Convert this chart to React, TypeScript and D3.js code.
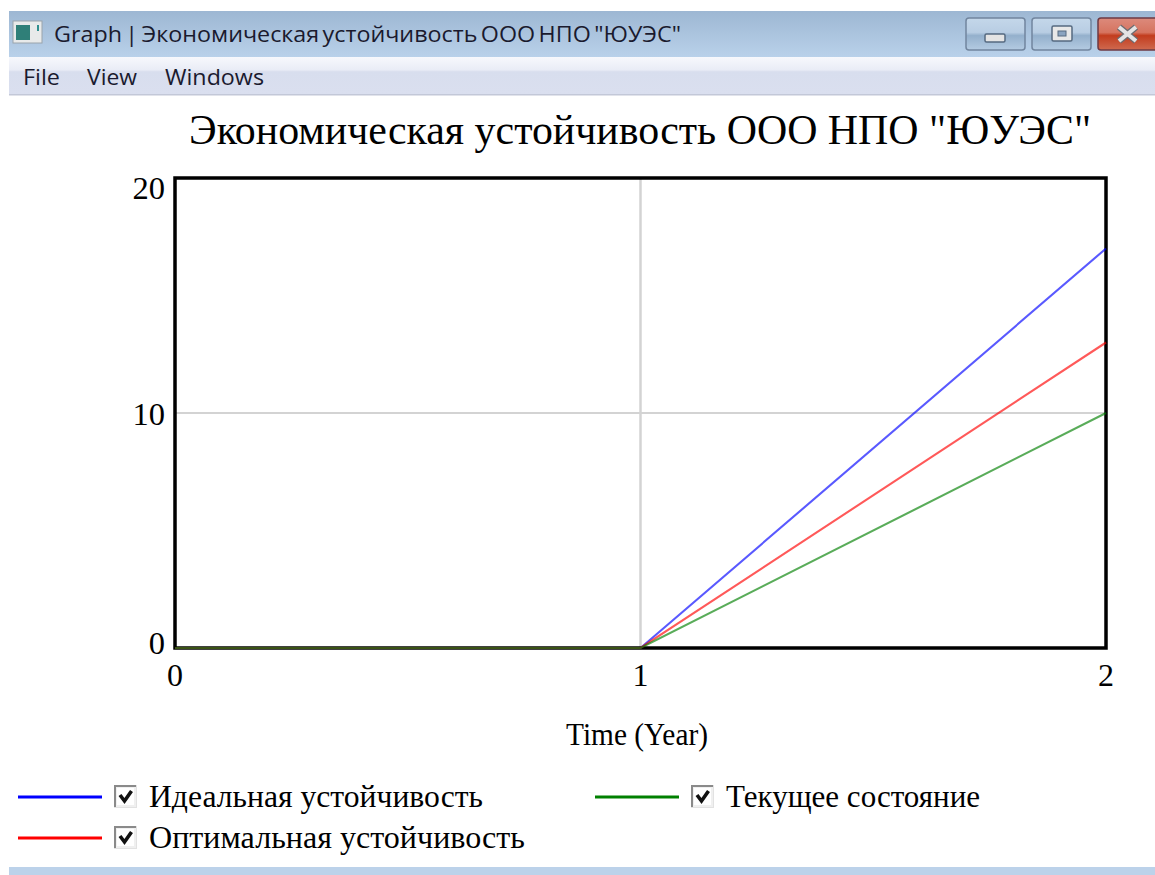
import React from "react";
import * as d3 from "d3";

const times = [0, 1, 2];
const ideal = [0, 0, 17];
const optimal = [0, 0, 13];
const current = [0, 0, 10];
const xTicks = [0, 1, 2];
const yTicks = [0, 10, 20];
const menuItems = [
  { label: "File", x: 23, w: 37 },
  { label: "View", x: 87, w: 50 },
  { label: "Windows", x: 165, w: 99 },
];
const windowTitle = 'Graph | Экономическая устойчивость ООО НПО "ЮУЭС"';
const chartTitle = 'Экономическая устойчивость ООО НПО "ЮУЭС"';
const xLabel = "Time (Year)";
const seriesList = [
  { name: "Идеальная устойчивость", values: ideal, color: "#0000ff", lx: 18, ly: 797, tw: 334 },
  { name: "Оптимальная устойчивость", values: optimal, color: "#ff0000", lx: 18, ly: 838, tw: 376 },
  { name: "Текущее состояние", values: current, color: "#008000", lx: 595, ly: 797, tw: 254 },
];

const L = 175, R = 1106, T = 178, B = 648;
const serif = "'Liberation Serif', serif";
const sans = "'Open Sans', 'Noto Sans', sans-serif";

function CheckBox({ x, y }: { x: number; y: number }) {
  return (
    <g transform={`translate(${x},${y})`}>
      <rect x={0.5} y={0.5} width={22} height={22} fill="#f0f0f0" stroke="#e2e2e2" />
      <path d="M1 22 V1 H22" fill="none" stroke="#8a8a8a" strokeWidth={2} />
      <rect x={3} y={3} width={17} height={17} fill="#fff" />
      <path d="M6 10 L10.5 16 L17.5 6" fill="none" stroke="#111" strokeWidth={3.6} />
    </g>
  );
}

function WinButton({ x, w, red, kind }: { x: number; w: number; red?: boolean; kind: string }) {
  const id = red ? "btnRed" : "btnBlue";
  return (
    <g>
      <rect x={x} y={18} width={w} height={32} rx={3} fill={`url(#${id})`} stroke={red ? "#6e3a44" : "#71859e"} strokeWidth={1.5} />
      {kind === "min" && <rect x={x + 19} y={34} width={20} height={8} rx={1.5} fill="#e4e4e4" stroke="#566a80" strokeWidth={1.5} />}
      {kind === "max" && (
        <g>
          <rect x={x + 20} y={26} width={20} height={15} rx={1.5} fill="#e8e8e8" stroke="#566a80" strokeWidth={1.5} />
          <rect x={x + 26} y={31} width={8} height={5} fill="#8ba4c0" stroke="#566a80" strokeWidth={1} />
        </g>
      )}
      {kind === "close" && (
        <g>
          <path d={`M${x + 21} 27 L${x + 38} 41 M${x + 38} 27 L${x + 21} 41`} stroke="#6b6b70" strokeWidth={6.5} />
          <path d={`M${x + 21} 27 L${x + 38} 41 M${x + 38} 27 L${x + 21} 41`} stroke="#e4e4e4" strokeWidth={4} />
        </g>
      )}
    </g>
  );
}

export default function App() {
  const x = d3.scaleLinear().domain([0, 2]).range([L, R]);
  const y = d3.scaleLinear().domain([0, 20]).range([B, T]);
  const line = d3.line<number>().x((_, i) => x(times[i])).y((d) => y(d));

  return (
    <svg width={1155} height={875} style={{ position: "absolute", left: 0, top: 0, background: "#fff" }}>
      <defs>
        <linearGradient id="titleBar" x1="0" y1="0" x2="0" y2="1">
          <stop offset="0" stopColor="#9db7d3" />
          <stop offset="1" stopColor="#b9d1ea" />
        </linearGradient>
        <linearGradient id="menuBar" x1="0" y1="0" x2="0" y2="1">
          <stop offset="0" stopColor="#f7f8fc" />
          <stop offset="0.35" stopColor="#e9ecf6" />
          <stop offset="0.4" stopColor="#d8deee" />
          <stop offset="1" stopColor="#dadfef" />
        </linearGradient>
        <linearGradient id="btnBlue" x1="0" y1="0" x2="0" y2="1">
          <stop offset="0" stopColor="#c4d7ea" />
          <stop offset="0.45" stopColor="#b8cde3" />
          <stop offset="0.55" stopColor="#94b0cc" />
          <stop offset="1" stopColor="#b4cbe2" />
        </linearGradient>
        <linearGradient id="btnRed" x1="0" y1="0" x2="0" y2="1">
          <stop offset="0" stopColor="#dc8a7c" />
          <stop offset="0.45" stopColor="#d67460" />
          <stop offset="0.55" stopColor="#c23c1e" />
          <stop offset="1" stopColor="#cf6a50" />
        </linearGradient>
      </defs>

      <rect x={9} y={11} width={1146} height={46} fill="url(#titleBar)" />
      <rect x={9} y={57} width={1146} height={37} fill="url(#menuBar)" />
      <rect x={9} y={94} width={1146} height={1.5} fill="#c3c8d8" />
      <rect x={9} y={867} width={1146} height={8} fill="#bcd2ea" />

      <rect x={13} y={21} width={29} height={22} fill="#e8eaea" stroke="#9aa4ac" />
      <rect x={16} y={25} width={14} height={15} fill="#2f7f78" />
      <rect x={37} y={25} width={2} height={6} fill="#2f8f8f" />

      <text x={54} y={42} fontFamily={sans} fontSize={22} wordSpacing={-2.5} fill="#1a1a2e" textLength={627} lengthAdjust="spacingAndGlyphs">
        {windowTitle}
      </text>
      <WinButton x={966} w={59} kind="min" />
      <WinButton x={1032} w={59} kind="max" />
      <WinButton x={1098} w={62} red kind="close" />

      {menuItems.map((m) => (
        <text key={m.label} x={m.x} y={85} fontFamily={sans} fontSize={22.5} fill="#1a1a2e" textLength={m.w} lengthAdjust="spacingAndGlyphs">
          {m.label}
        </text>
      ))}

      <text x={640} y={144} textAnchor="middle" fontFamily={serif} fontSize={41.5} fill="#000" textLength={902} lengthAdjust="spacingAndGlyphs">
        {chartTitle}
      </text>

      {xTicks.slice(1, -1).map((t) => (
        <line key={t} x1={x(t)} x2={x(t)} y1={T} y2={B} stroke="#d3d3d3" strokeWidth={2.5} />
      ))}
      {yTicks.slice(1, -1).map((t) => (
        <line key={t} x1={L} x2={R} y1={y(t)} y2={y(t)} stroke="#d3d3d3" strokeWidth={2} />
      ))}

      <rect x={L} y={T} width={R - L} height={B - T} fill="none" stroke="#000" strokeWidth={3.5} />

      {seriesList.map((s) => (
        <path key={s.name} d={line(s.values) ?? ""} fill="none" stroke={s.color} strokeWidth={2.1} strokeOpacity={0.65} />
      ))}

      {yTicks.map((t) => (
        <text key={t} x={165} y={t === 0 ? 654 : t === 10 ? 425 : 199} textAnchor="end" fontFamily={serif} fontSize={32.5} fill="#000">
          {t}
        </text>
      ))}
      {xTicks.map((t) => (
        <text key={t} x={x(t)} y={686} textAnchor="middle" fontFamily={serif} fontSize={32} fill="#000">
          {t}
        </text>
      ))}
      <text x={637} y={745} textAnchor="middle" fontFamily={serif} fontSize={31} fill="#000" textLength={142} lengthAdjust="spacingAndGlyphs">
        {xLabel}
      </text>

      {seriesList.map((s) => (
        <g key={s.name}>
          <line x1={s.lx} x2={s.lx + 84} y1={s.ly} y2={s.ly} stroke={s.color} strokeWidth={3.2} />
          <CheckBox x={s.lx + 96} y={s.ly - 12} />
          <text x={s.lx + 131} y={s.ly + 10} fontFamily={serif} fontSize={31} fill="#000" textLength={s.tw} lengthAdjust="spacingAndGlyphs">
            {s.name}
          </text>
        </g>
      ))}
    </svg>
  );
}
